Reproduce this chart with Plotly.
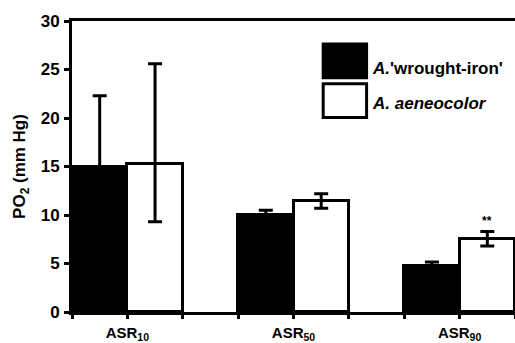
import plotly.graph_objects as go

categories = ["ASR<sub>10</sub>", "ASR<sub>50</sub>", "ASR<sub>90</sub>"]
wrought_iron = [14.9, 10.0, 4.75]
wrought_iron_err = [7.4, 0.5, 0.4]
aeneocolor = [15.3, 11.4, 7.5]
aeneocolor_err_plus = [10.3, 0.8, 0.8]
aeneocolor_err_minus = [6.0, 0.7, 0.7]
series_names = ["<b><i>A.</i>'wrought-iron'</b>", "<b><i>A. aeneocolor</i></b>"]
y_ticks = [0, 5, 10, 15, 20, 25, 30]
signif_label = "**"
signif_index = 2

FONT = "Liberation Sans"

# bar slot positions: each group = black, white, gap
black_x = [3 * i + 0.5 for i in range(len(categories))]
white_x = [3 * i + 1.5 for i in range(len(categories))]
x_tickvals = list(range(0, 3 * len(categories)))
x_ticktext = []
for v in x_tickvals:
    if v % 3 == 1:
        x_ticktext.append("<b>" + categories[v // 3] + "</b>")
    else:
        x_ticktext.append("")

fig = go.Figure()
fig.add_trace(go.Bar(
    x=black_x, y=wrought_iron, width=1,
    marker=dict(color="black", line=dict(color="black", width=3)),
    error_y=dict(type="data", array=wrought_iron_err, color="black", thickness=3, width=7),
    name=series_names[0], showlegend=False,
))
fig.add_trace(go.Bar(
    x=white_x, y=aeneocolor, width=1,
    marker=dict(color="white", line=dict(color="black", width=3)),
    error_y=dict(type="data", symmetric=False, array=aeneocolor_err_plus,
                 arrayminus=aeneocolor_err_minus, color="black", thickness=3, width=7),
    name=series_names[1], showlegend=False,
))

fig.add_annotation(
    x=white_x[signif_index], y=aeneocolor[signif_index] + aeneocolor_err_plus[signif_index],
    text="<b>" + signif_label + "</b>", showarrow=False, yanchor="bottom", yshift=1,
    font=dict(family=FONT, size=12, color="black"),
)

# legend drawn manually
fig.add_shape(type="rect", xref="paper", yref="paper", x0=0.567, x1=0.665, y0=0.805, y1=0.921,
              fillcolor="black", line=dict(color="black", width=3))
fig.add_shape(type="rect", xref="paper", yref="paper", x0=0.567, x1=0.665, y0=0.668, y1=0.784,
              fillcolor="white", line=dict(color="black", width=3))
fig.add_annotation(xref="paper", yref="paper", x=0.672, y=0.838, xanchor="left", yanchor="middle",
                   text=series_names[0], showarrow=False,
                   font=dict(family=FONT, size=17, color="black"))
fig.add_annotation(xref="paper", yref="paper", x=0.672, y=0.718, xanchor="left", yanchor="middle",
                   text=series_names[1], showarrow=False,
                   font=dict(family=FONT, size=17, color="black"))

fig.update_layout(
    width=515, height=343,
    margin=dict(l=72, r=0, t=21, b=31),
    paper_bgcolor="white", plot_bgcolor="white",
    barmode="overlay",
    bargap=0,
    font=dict(family=FONT, color="black"),
    xaxis=dict(
        range=[0, 8], tickmode="array", tickvals=x_tickvals, ticktext=x_ticktext,
        showline=True, linecolor="black", linewidth=3, mirror=True,
        ticks="outside", ticklen=4, tickwidth=3, tickcolor="black",
        showgrid=False, zeroline=False,
        tickfont=dict(family=FONT, size=15, color="black", weight="bold"),
        ticklabelstandoff=1,
    ),
    yaxis=dict(
        range=[0, 30], tickvals=y_ticks,
        showline=True, linecolor="black", linewidth=3,
        ticks="outside", ticklen=5, tickwidth=3, tickcolor="black",
        showgrid=False, zeroline=False,
        tickfont=dict(family=FONT, size=17, color="black", weight="bold"),
        ticklabelstandoff=1,
        title=dict(text="<b>PO<sub>2</sub> (mm Hg)</b>", standoff=11,
                   font=dict(family=FONT, size=17, color="black")),
    ),
)

fig.write_html("out.html", config={"displayModeBar": False},
               post_script="document.body.style.margin='0px';document.body.style.overflow='hidden';")
